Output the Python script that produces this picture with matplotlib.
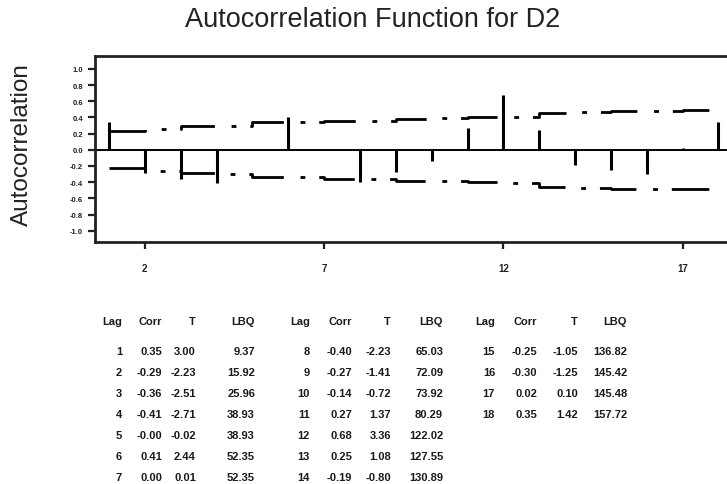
import numpy as np
import matplotlib
matplotlib.use("Agg")
from matplotlib import pyplot as plt

plt.rcParams['font.family'] = ['Liberation Sans', 'DejaVu Sans']
plt.rcParams['lines.scale_dashes'] = False

lags = list(range(1, 19))
corr = [0.35, -0.29, -0.36, -0.41, -0.0, 0.41, 0.00, -0.40, -0.27,
        -0.14, 0.27, 0.68, 0.25, -0.19, -0.25, -0.30, 0.02, 0.35]
tstat = [3.00, -2.23, -2.51, -2.71, -0.02, 2.44, 0.01, -2.23, -1.41,
         -0.72, 1.37, 3.36, 1.08, -0.80, -1.05, -1.25, 0.10, 1.42]
lbq = [9.37, 15.92, 25.96, 38.93, 38.93, 52.35, 52.35, 65.03, 72.09,
       73.92, 80.29, 122.02, 127.55, 130.89, 136.82, 145.42, 145.48, 157.72]
limits = [0.23, 0.26, 0.29, 0.30, 0.34, 0.34, 0.36, 0.36, 0.38,
          0.39, 0.40, 0.41, 0.46, 0.47, 0.48, 0.48, 0.49, 0.49]
xticks = [2, 7, 12, 17]
yticks = [1.0, 0.8, 0.6, 0.4, 0.2, 0.0, -0.2, -0.4, -0.6, -0.8, -1.0]

W, H = 727, 485
fig = plt.figure(figsize=(W / 100, H / 100), dpi=100)

def fx(px):
    return px / W

def fy(py):
    return 1 - py / H

ax = fig.add_axes([fx(95), fy(243), fx(740 - 95), fy(57) - fy(243)])
ax.set_xlim(0.61, 18.6)
ax.set_ylim(-1.14, 1.16)

ax.axhline(0, color='black', lw=1.4)
ax.vlines(lags, 0, corr, color='black', lw=2.2)
dash = (0, (27, 12, 3.5, 10))
lim = np.array(limits)
ax.plot(lags, lim, drawstyle='steps-post', color='black', lw=2.0, ls=dash)
ax.plot(lags, -lim, drawstyle='steps-post', color='black', lw=2.0, ls=dash)

for s in ['top', 'left', 'bottom']:
    ax.spines[s].set_linewidth(2.0)
    ax.spines[s].set_color('#222222')
ax.spines['right'].set_visible(False)

ax.set_xticks(xticks)
ax.set_xticklabels([str(t) for t in xticks], fontsize=7, fontweight='bold')
ax.set_yticks(yticks)
ax.set_yticklabels([f"{t:.1f}" for t in yticks], fontsize=5.5, fontweight='bold')
ax.tick_params(axis='both', direction='out', length=5, width=1.6, colors='#222222')
ax.tick_params(axis='x', pad=10)

fig.text(fx(373), fy(20), "Autocorrelation Function for D2",
         ha='center', va='center', fontsize=19.5, color='#222222')
fig.text(fx(22), fy(145), "Autocorrelation", rotation=90,
         ha='center', va='center', fontsize=17.5, color='#222222')

# table of lag, corr, T, LBQ
cols = [[122, 162, 196, 255], [310, 352, 391, 443], [495, 537, 578, 627]]
headers = ["Lag", "Corr", "T", "LBQ"]
tkw = dict(ha='right', va='center', fontsize=8, fontweight='bold', color='#1a1a1a')
for b, c in enumerate(cols):
    for h, x in zip(headers, c):
        fig.text(fx(x), fy(322), h, **tkw)
    for r, i in enumerate(range(b * 7, min(b * 7 + 7, len(lags)))):
        y = fy(352 + 21 * r)
        fig.text(fx(c[0]), y, str(lags[i]), **tkw)
        fig.text(fx(c[1]), y, f"{corr[i]:.2f}", **tkw)
        fig.text(fx(c[2]), y, f"{tstat[i]:.2f}", **tkw)
        fig.text(fx(c[3]), y, f"{lbq[i]:.2f}", **tkw)

fig.savefig("out.png", dpi=100)
